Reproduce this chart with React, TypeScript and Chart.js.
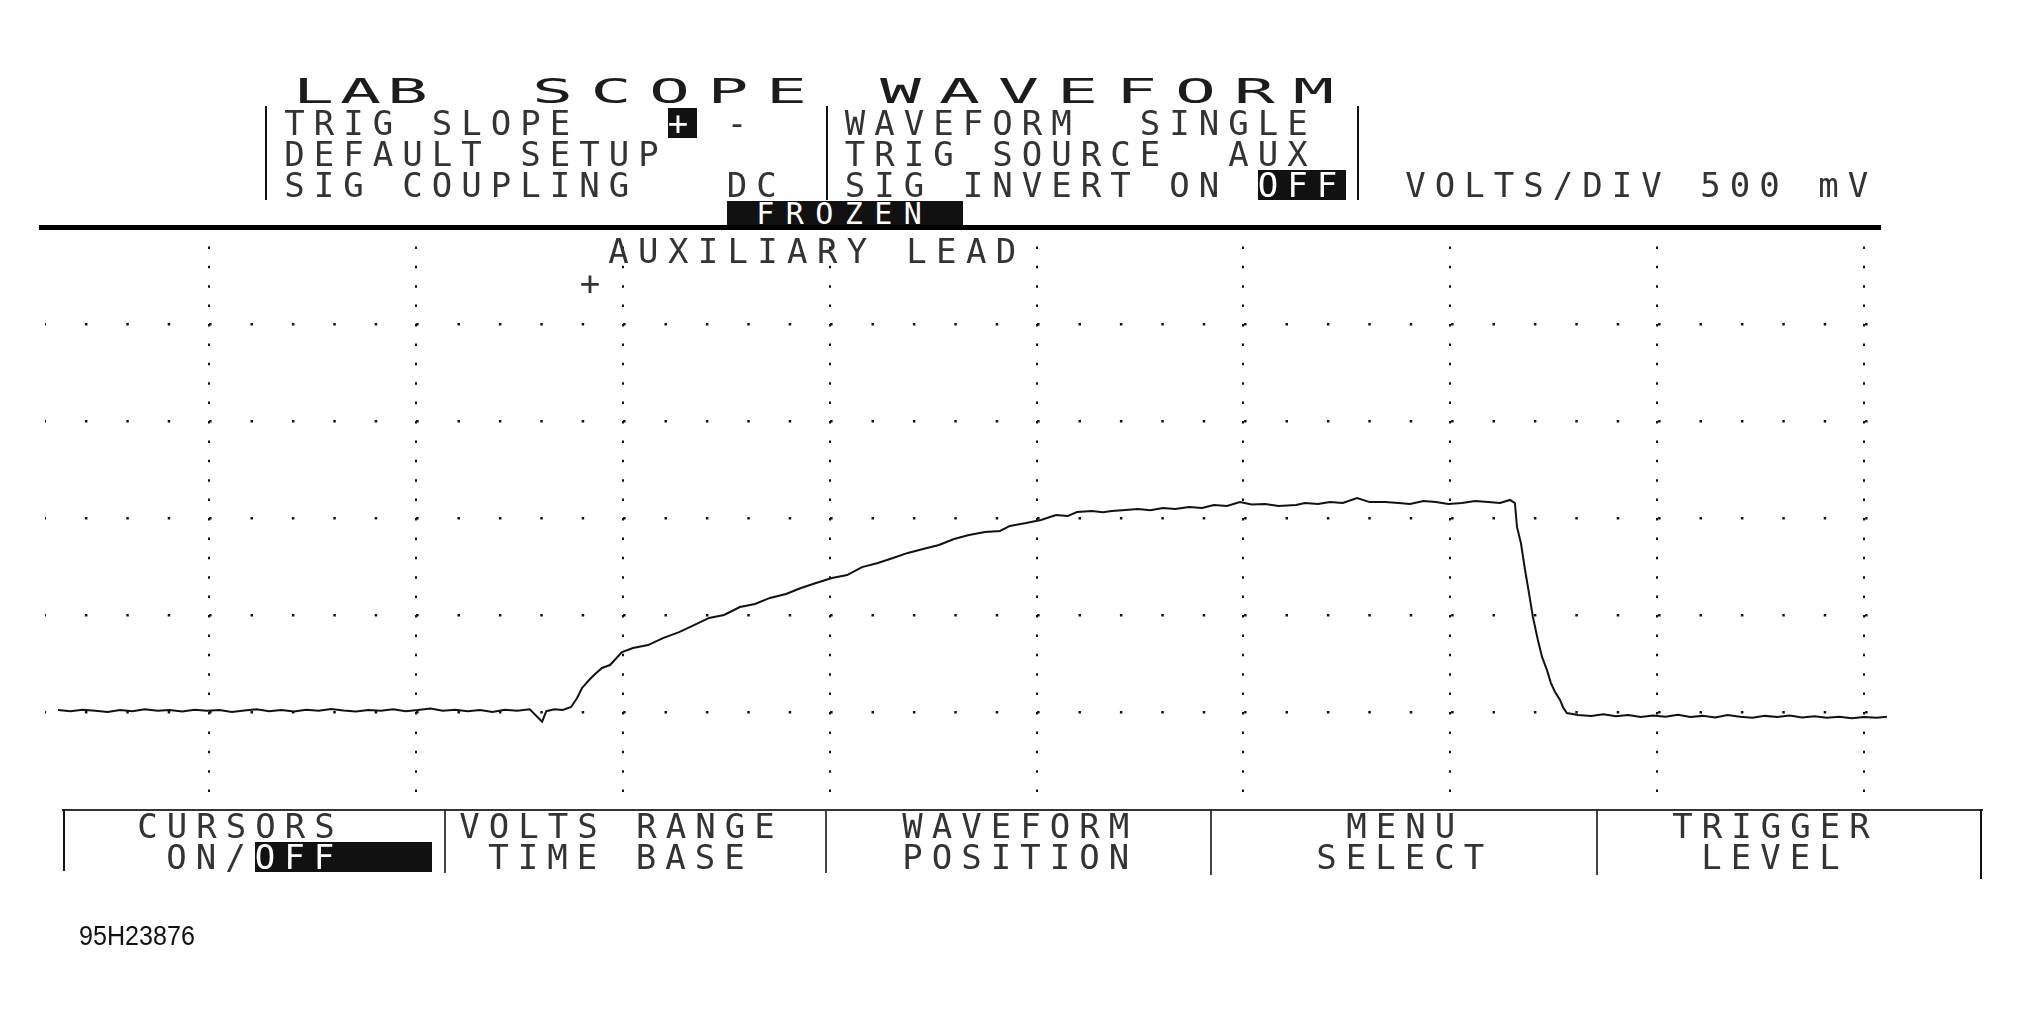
import React, { useEffect, useRef } from "react";
import { Chart, registerables } from "chart.js";

Chart.register(...registerables);

// Horizontal axis: graticule divisions (time base), vertical axis: volts (500 mV / div)
const TIME_DIV = [
  -0.73, -0.67, -0.61, -0.55, -0.49, -0.43, -0.37, -0.31, -0.25, -0.19, -0.13, -0.07, -0.01,
  0.05, 0.11, 0.17, 0.23, 0.29, 0.35, 0.41, 0.47, 0.53, 0.59, 0.65, 0.71, 0.77, 0.83, 0.89,
  0.95, 1.01, 1.07, 1.13, 1.19, 1.25, 1.31, 1.37, 1.43, 1.49, 1.55, 1.61, 1.63, 1.67, 1.71,
  1.75, 1.779, 1.803, 1.837, 1.861, 1.899, 1.938, 1.996, 2.049, 2.122, 2.194, 2.272, 2.344,
  2.417, 2.489, 2.566, 2.639, 2.711, 2.789, 2.861, 2.934, 3.011, 3.084, 3.156, 3.233, 3.306,
  3.378, 3.451, 3.528, 3.601, 3.673, 3.751, 3.823, 3.871, 3.949, 4.021, 4.094, 4.15, 4.195,
  4.268, 4.32, 4.364, 4.43, 4.49, 4.55, 4.611, 4.67, 4.737, 4.8, 4.857, 4.92, 4.983, 5.04,
  5.104, 5.17, 5.254, 5.297, 5.36, 5.418, 5.48, 5.549, 5.61, 5.684, 5.75, 5.805, 5.87, 5.93,
  5.99, 6.056, 6.12, 6.182, 6.24, 6.288, 6.312, 6.322, 6.341, 6.361, 6.38, 6.399, 6.423,
  6.443, 6.467, 6.486, 6.506, 6.53, 6.544, 6.563, 6.617, 6.68, 6.74, 6.8, 6.86, 6.92, 6.98,
  7.04, 7.1, 7.16, 7.22, 7.28, 7.34, 7.4, 7.46, 7.52, 7.58, 7.64, 7.7, 7.76, 7.82, 7.88,
  7.94, 8.0, 8.06, 8.11,
];

const SIGNAL_V = [
  0.01, 0.004, 0.012, 0.006, 0.0, 0.01, 0.004, 0.014, 0.006, 0.01, 0.002, 0.012, 0.006,
  0.01, 0.0, 0.008, 0.014, 0.004, 0.01, 0.002, 0.012, 0.006, 0.016, 0.008, 0.002, 0.01,
  0.006, 0.014, 0.004, 0.01, 0.018, 0.006, 0.012, 0.004, 0.01, 0.0, 0.012, 0.006, 0.014,
  -0.05, 0.004, 0.014, 0.01,
  0.026, 0.072, 0.124, 0.165, 0.191, 0.227, 0.242, 0.309, 0.33, 0.345, 0.381, 0.412, 0.448,
  0.485, 0.5, 0.541, 0.557, 0.588, 0.608, 0.639, 0.665, 0.691, 0.706, 0.747, 0.768, 0.794,
  0.82, 0.84, 0.861, 0.892, 0.912, 0.928, 0.933, 0.959, 0.974, 0.99, 1.015, 1.01, 1.031,
  1.036, 1.03, 1.036, 1.041, 1.046, 1.04, 1.052, 1.046, 1.057, 1.052, 1.067, 1.062, 1.082,
  1.07, 1.072, 1.062, 1.067, 1.077, 1.072, 1.082, 1.077, 1.103, 1.082, 1.082, 1.077, 1.072,
  1.088, 1.082, 1.072, 1.077, 1.088, 1.082, 1.077, 1.093, 1.077, 0.954, 0.871, 0.732, 0.613,
  0.49, 0.371, 0.284, 0.216, 0.149, 0.103, 0.062, 0.026, -0.005, -0.015, -0.02, -0.012,
  -0.022, -0.016, -0.026, -0.018, -0.024, -0.014, -0.026, -0.02, -0.028, -0.016, -0.024,
  -0.03, -0.02, -0.026, -0.018, -0.028, -0.022, -0.03, -0.024, -0.032, -0.026, -0.03, -0.024,
];

const X_GRID_DIVS = [0, 1, 2, 3, 4, 5, 6, 7, 8];
const Y_GRID_VOLTS = [0, 0.5, 1.0, 1.5, 2.0];
const X_MIN = -0.793;
const X_MAX = 8.125;
const Y_MIN = -0.5;
const Y_MAX = 2.5;

const FONT = '"DejaVu Sans Mono", monospace';
const ADV = 0.60205;
const INK = "#333";

function Line(props: {
  x: number;
  y: number;
  size?: number;
  pitch?: number;
  h?: number;
  sx?: number;
  ink?: string;
  children: React.ReactNode;
}) {
  const { x, y, size = 34, pitch = 29.5, h = 30, sx = 1, ink = INK, children } = props;
  return (
    <div
      style={{
        position: "absolute",
        left: x,
        top: y,
        height: h,
        fontFamily: FONT,
        fontSize: size,
        lineHeight: `${h}px`,
        letterSpacing: `${pitch / sx - ADV * size}px`,
        whiteSpace: "pre",
        color: ink,
        transform: sx !== 1 ? `scaleX(${sx})` : undefined,
        transformOrigin: "0 0",
      }}
    >
      {children}
    </div>
  );
}

function Inv(props: { h?: number; children: React.ReactNode }) {
  const { h = 30, children } = props;
  return (
    <span
      style={{
        display: "inline-block",
        height: h,
        lineHeight: `${h}px`,
        verticalAlign: "top",
        background: "#111",
        color: "#fff",
      }}
    >
      {children}
    </span>
  );
}

function Bar(props: { x: number; y: number; w: number; h: number; c?: string }) {
  const { x, y, w, h, c = "#111" } = props;
  return <div style={{ position: "absolute", left: x, top: y, width: w, height: h, background: c }} />;
}

export default function App() {
  const ref = useRef<HTMLCanvasElement | null>(null);

  useEffect(() => {
    const canvas = ref.current;
    if (!canvas) return;
    const points = TIME_DIV.map((t, i) => ({ x: t, y: SIGNAL_V[i] }));
    const chart = new Chart(canvas, {
      type: "line",
      data: {
        datasets: [
          {
            data: points,
            borderColor: "#111",
            borderWidth: 2,
            pointRadius: 0,
            tension: 0,
            fill: false,
          },
        ],
      },
      options: {
        animation: false,
        responsive: false,
        devicePixelRatio: 1,
        layout: { padding: { left: 45, right: 133, top: 227, bottom: 213 } },
        plugins: { legend: { display: false }, tooltip: { enabled: false }, title: { display: false } },
        scales: {
          x: {
            type: "linear",
            min: X_MIN,
            max: X_MAX,
            ticks: { display: false },
            grid: { color: "#111", lineWidth: 2, drawTicks: false },
            border: { display: false, dash: [2.5, 16.9], dashOffset: 0 },
            afterBuildTicks: (s: any) => {
              s.ticks = X_GRID_DIVS.map((v) => ({ value: v }));
            },
            afterFit: (s: any) => {
              s.height = 0;
            },
          },
          y: {
            type: "linear",
            min: Y_MIN,
            max: Y_MAX,
            ticks: { display: false },
            grid: { color: "#111", lineWidth: 2.5, drawTicks: false },
            border: { display: false, dash: [2.5, 38.9], dashOffset: 1.5 },
            afterBuildTicks: (s: any) => {
              s.ticks = Y_GRID_VOLTS.map((v) => ({ value: v }));
            },
            afterFit: (s: any) => {
              s.width = 0;
            },
          },
        },
      },
    } as any);
    return () => chart.destroy();
  }, []);

  return (
    <div
      style={{
        position: "fixed",
        left: 0,
        top: 0,
        width: 2023,
        height: 1022,
        background: "#fff",
        overflow: "hidden",
      }}
    >
      <canvas
        ref={ref}
        width={2023}
        height={1022}
        style={{ position: "absolute", left: 0, top: 0, width: 2023, height: 1022 }}
      />

      {/* title */}
      <Line x={292.5} y={76} pitch={47} sx={2} ink="#1c1c1c">LAB</Line>
      <Line x={531.5} y={76} pitch={58.5} sx={2} ink="#1c1c1c">SCOPE</Line>
      <Line x={879.5} y={76} pitch={59} sx={2} ink="#1c1c1c">WAVEFORM</Line>

      {/* status rows */}
      <Line x={254.8} y={108}>
        {" TRIG SLOPE   "}
        <Inv>+</Inv>
        {" -   WAVEFORM  SINGLE"}
      </Line>
      <Line x={254.8} y={139}>{" DEFAULT SETUP      TRIG SOURCE  AUX"}</Line>
      <Line x={254.8} y={170}>
        {" SIG COUPLING   DC  SIG INVERT ON "}
        <Inv>OFF</Inv>
        {"  VOLTS/DIV 500 mV"}
      </Line>
      <div
        style={{ position: "absolute", left: 726.8, top: 201, width: 240, height: 25, overflow: "hidden" }}
      >
        <Line x={0} y={0} size={30} h={25}>
          <Inv h={25}>{" FROZEN "}</Inv>
        </Line>
      </div>

      <Bar x={265} y={106} w={2} h={94} />
      <Bar x={826} y={106} w={2} h={94} />
      <Bar x={1357} y={106} w={2} h={94} />

      {/* graticule top line */}
      <Bar x={39} y={225} w={1842} h={5} c="#000" />

      <Line x={608.3} y={236} pitch={29.8}>AUXILIARY LEAD</Line>
      <Line x={579.8} y={268}>+</Line>

      {/* soft-key menu */}
      <Bar x={62} y={809} w={1921} h={2} c="#333" />
      <Bar x={63} y={809} w={2} h={62} />
      <Bar x={444} y={811} w={2} h={62} c="#444" />
      <Bar x={825} y={811} w={2} h={62} c="#444" />
      <Bar x={1210} y={811} w={2} h={64} c="#444" />
      <Bar x={1596} y={811} w={2} h={64} c="#444" />
      <Bar x={1980} y={809} w={2} h={70} />

      <Line x={137.3} y={811}>CURSORS</Line>
      <Line x={166.3} y={842}>
        {"ON/"}
        <Inv>{"OFF   "}</Inv>
      </Line>
      <Line x={459.3} y={811}>VOLTS RANGE</Line>
      <Line x={488.3} y={842}>TIME BASE</Line>
      <Line x={902.3} y={811}>WAVEFORM</Line>
      <Line x={902.3} y={842}>POSITION</Line>
      <Line x={1346.3} y={811}>MENU</Line>
      <Line x={1316.3} y={842}>SELECT</Line>
      <Line x={1672.3} y={811}>TRIGGER</Line>
      <Line x={1701.3} y={842}>LEVEL</Line>

      <div
        style={{
          position: "absolute",
          left: 79,
          top: 923,
          fontFamily: '"Liberation Sans", Arial, sans-serif',
          fontSize: 27,
          lineHeight: "27px",
          color: "#111",
          whiteSpace: "pre",
          transform: "scaleX(0.93)",
          transformOrigin: "0 0",
        }}
      >
        95H23876
      </div>
    </div>
  );
}
